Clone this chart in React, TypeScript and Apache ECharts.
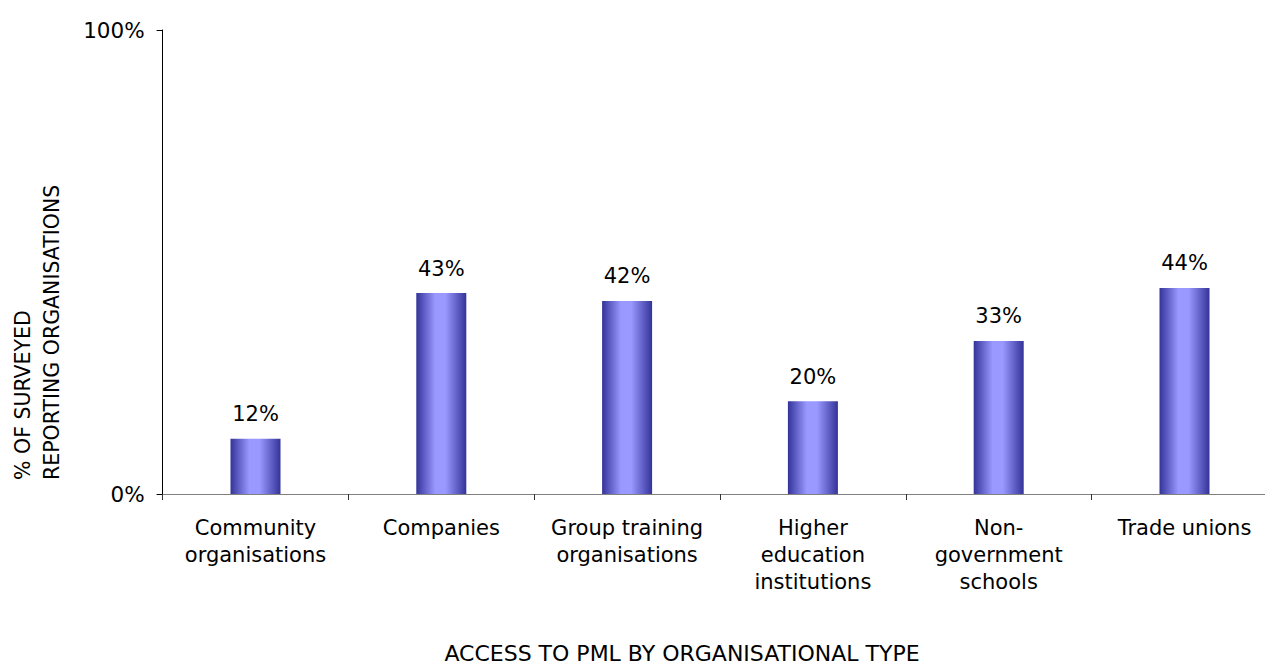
import React, { useEffect, useRef } from "react";
import * as echarts from "echarts";

const categories = [
  "Community\norganisations",
  "Companies",
  "Group training\norganisations",
  "Higher\neducation\ninstitutions",
  "Non-\ngovernment\nschools",
  "Trade unions",
];
const shares = [11.9, 43.3, 41.6, 20.0, 33.0, 44.4];
const yTicks = [0, 100];
const xTitle = "ACCESS TO PML BY ORGANISATIONAL TYPE";
const yTitle = "% OF SURVEYED\nREPORTING ORGANISATIONS";

const FONT = "DejaVu Sans";

export default function App() {
  const ref = useRef<HTMLDivElement>(null);
  useEffect(() => {
    if (!ref.current) return;
    const chart = echarts.init(ref.current, undefined, { renderer: "svg" });
    const barColor = new echarts.graphic.LinearGradient(0, 0, 1, 0, [
      { offset: 0, color: "#333399" },
      { offset: 0.38, color: "#9999ff" },
      { offset: 0.58, color: "#9999ff" },
      { offset: 1, color: "#333399" },
    ]);
    chart.setOption({
      animation: false,
      backgroundColor: "#ffffff",
      textStyle: { fontFamily: FONT },
      grid: { left: 162.6, right: 2.6, top: 30, bottom: 170, containLabel: false },
      xAxis: {
        type: "category",
        data: categories,
        axisLine: { show: true, lineStyle: { color: "#808080", width: 1 } },
        axisTick: { show: true, length: 6, interval: 0, lineStyle: { color: "#333333" } },
        axisLabel: {
          interval: 0,
          margin: 20,
          color: "#000000",
          fontFamily: FONT,
          fontSize: 21,
          lineHeight: 27,
          align: "center",
          verticalAlign: "top",
        },
        splitLine: { show: false },
      },
      yAxis: {
        type: "value",
        min: yTicks[0],
        max: yTicks[yTicks.length - 1],
        interval: 100,
        axisLine: { show: true, lineStyle: { color: "#000000", width: 1 } },
        axisTick: { show: true, length: 6, lineStyle: { color: "#000000" } },
        axisLabel: {
          margin: 18,
          color: "#000000",
          fontFamily: FONT,
          fontSize: 21.5,
          formatter: "{value}%",
        },
        splitLine: { show: false },
      },
      graphic: [
        {
          type: "text",
          x: 37.5,
          y: 480,
          rotation: Math.PI / 2,
          style: {
            text: yTitle,
            fontFamily: FONT,
            fontSize: 20.5,
            lineHeight: 29,
            fill: "#000000",
            align: "left",
            verticalAlign: "middle",
          },
        },
        {
          type: "text",
          x: 682,
          y: 653,
          style: {
            text: xTitle,
            fontFamily: FONT,
            fontSize: 22,
            lineHeight: 14,
            fill: "#000000",
            align: "center",
            verticalAlign: "middle",
          },
        },
      ],
      series: [
        {
          type: "bar",
          data: shares,
          barWidth: 50,
          itemStyle: { color: barColor },
          label: {
            show: true,
            position: "top",
            distance: 14,
            color: "#000000",
            fontFamily: FONT,
            fontSize: 21,
            lineHeight: 21,
            formatter: (p: any) => Math.round(p.value) + "%",
          },
        },
      ],
    });
    return () => chart.dispose();
  }, []);
  return (
    <div
      ref={ref}
      style={{ position: "fixed", left: 0, top: 0, width: 1280, height: 664 }}
    />
  );
}
